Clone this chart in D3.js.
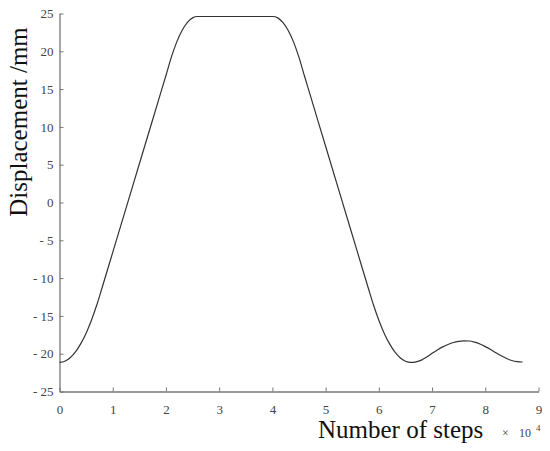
<!DOCTYPE html>
<html><head><meta charset="utf-8">
<script src="https://cdn.jsdelivr.net/npm/d3@7"></script>
<style>body{margin:0;background:#fff}svg{display:block}</style>
</head><body>
<script>
const stepsX = [0,0.1,0.2,0.3,0.4,0.5,0.6,0.7,0.8,1.0,1.3,1.6,1.9,2.0,2.1,2.2,2.3,2.4,2.5,2.59,3.0,3.5,4.01,4.1,4.2,4.3,4.4,4.5,4.6,4.7,5.0,5.3,5.6,5.8,5.9,6.0,6.1,6.2,6.3,6.4,6.5,6.6,6.7,6.8,6.9,7.0,7.1,7.2,7.3,7.4,7.5,7.6,7.7,7.8,7.9,8.0,8.1,8.2,8.3,8.4,8.5,8.6,8.7];
const displacement = [-21.15,-21.0,-20.53,-19.76,-18.67,-17.28,-15.57,-13.56,-11.28,-6.6,0.42,7.44,14.46,16.8,19.2,21.18,22.71,23.79,24.42,24.6,24.6,24.6,24.6,24.42,23.79,22.71,21.18,19.2,16.8,14.46,7.44,0.42,-6.6,-11.28,-13.56,-15.57,-17.28,-18.67,-19.76,-20.53,-21.0,-21.15,-21.08,-20.85,-20.45,-19.95,-19.5,-19.1,-18.78,-18.52,-18.36,-18.3,-18.32,-18.47,-18.72,-19.06,-19.45,-19.88,-20.28,-20.63,-20.9,-21.05,-21.1];
const xTicks = [0,1,2,3,4,5,6,7,8,9];
const yTicks = [-25,-20,-15,-10,-5,0,5,10,15,20,25];

const W = 550, H = 451;
const serif = "'Liberation Serif','Times New Roman',serif";
const svg = d3.select("body").append("svg").attr("width", W).attr("height", H)
  .style("font-family", serif);
const x = d3.scaleLinear().domain([0, 9]).range([59.5, 538.5]);
const y = d3.scaleLinear().domain([-25, 25]).range([391.5, 13.5]);

const fmtY = d => d < 0 ? "- " + Math.abs(d) : String(d);
const gx = svg.append("g").attr("transform", `translate(0,${y(-25)})`)
  .call(d3.axisBottom(x).tickValues(xTicks).tickSize(-4).tickPadding(13).tickSizeOuter(0).tickFormat(d3.format("d")));
const gy = svg.append("g").attr("transform", `translate(${x(0)},0)`)
  .call(d3.axisLeft(y).tickValues(yTicks).tickSize(-4).tickPadding(6).tickSizeOuter(0).tickFormat(fmtY));
[gx, gy].forEach(g => {
  g.attr("font-family", serif).attr("font-size", 13);
  g.select(".domain").attr("stroke", "#777").attr("stroke-width", 1.3);
  g.selectAll(".tick line").attr("stroke", "#777");
  g.selectAll(".tick text").attr("fill", "#444").attr("font-family", serif).attr("font-size", 13);
});

const pts = stepsX.map((v, i) => [v, displacement[i]]);
svg.append("path").datum(pts)
  .attr("fill", "none").attr("stroke", "#333").attr("stroke-width", 1.2)
  .attr("d", d3.line().x(d => x(d[0])).y(d => y(d[1])).curve(d3.curveMonotoneX));

svg.append("text").attr("x", 318).attr("y", 438).attr("font-size", "25px").attr("fill", "#111")
  .text("Number of steps");
svg.append("text").attr("x", 502).attr("y", 437).attr("font-size", "12px").attr("fill", "#444").text("×");
svg.append("text").attr("x", 519).attr("y", 437).attr("font-size", "12px").attr("fill", "#444").text("10");
svg.append("text").attr("x", 536).attr("y", 431).attr("font-size", "9px").attr("fill", "#444").text("4");

svg.append("text").attr("transform", "translate(27,122) rotate(-90)").attr("text-anchor", "middle")
  .attr("font-size", "25px").attr("fill", "#111").text("Displacement /mm");
</script>
</body></html>
